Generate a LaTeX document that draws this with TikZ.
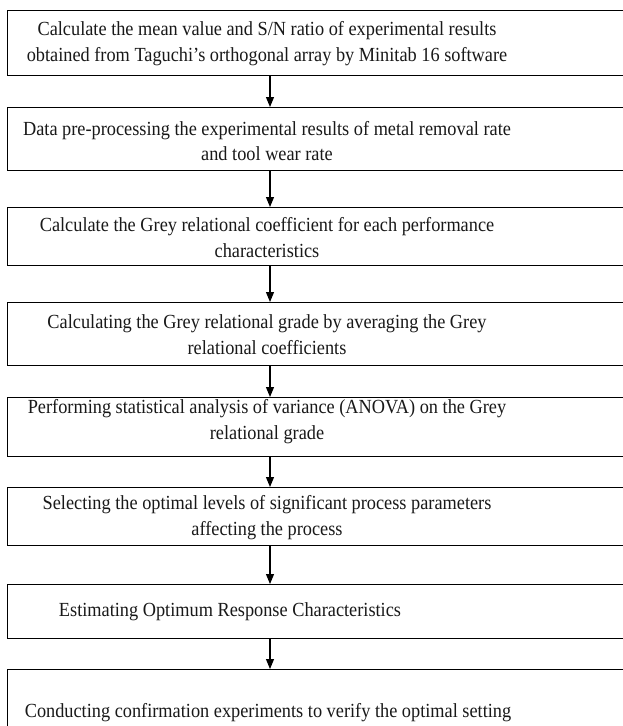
\documentclass[tikz,border=0pt]{standalone}
\usepackage{fontspec}
\setmainfont{Liberation Serif}
\newfontfamily\narrowserif[FakeStretch=0.915]{Liberation Serif}
\usetikzlibrary{arrows.meta}
\begin{document}
\begin{tikzpicture}[x=1pt,y=1pt,
  box/.style={draw=black, line width=1.1pt, fill=white, rectangle, minimum width=660pt, anchor=north west, inner sep=0pt},
  txt/.style={align=center, font=\narrowserif\fontsize{20}{25.5}\selectfont, inner sep=0pt, text=black!90},
  arr/.style={line width=1.1pt, -{Triangle[length=10pt,width=8pt]}}]
\useasboundingbox (0,0) rectangle (623,-726);
\fill[white] (0,0) rectangle (623,-726);
\clip (0,0) rectangle (623,-726);
\coordinate (ax) at (270,0);
\node[box, minimum height=65pt] (b1) at (7,-10) {};
\node[box, minimum height=63pt] (b2) at (7,-107) {};
\node[box, minimum height=58pt] (b3) at (7,-207) {};
\node[box, minimum height=63pt] (b4) at (7,-302) {};
\node[box, minimum height=59pt] (b5) at (7,-397) {};
\node[box, minimum height=58pt] (b6) at (7,-487) {};
\node[box, minimum height=54pt] (b7) at (7,-584) {};
\node[box, minimum height=66pt] (b8) at (7,-669) {};
\node[txt] (t1) at (267,-43.5) {Calculate the mean value and S/N ratio of experimental results\\obtained from Taguchi’s orthogonal array by Minitab 16 software};
\node[txt] (t2) at (267,-141) {Data pre-processing the experimental results of metal removal rate\\and tool wear rate};
\node[txt] (t3) at (267,-237.5) {Calculate the Grey relational coefficient for each performance\\characteristics};
\node[txt] (t4) at (267,-334.5) {Calculating the Grey relational grade by averaging the Grey\\relational coefficients};
\node[txt] (t5) at (267,-421.5) {Performing statistical analysis of variance (ANOVA) on the Grey\\relational grade};
\node[txt] (t6) at (267,-517.5) {Selecting the optimal levels of significant process parameters\\affecting the process};
\node[txt] (t7) at (230,-612) {Estimating Optimum Response Characteristics};
\node[txt] (t8) at (268,-713) {Conducting confirmation experiments to verify the optimal setting};
\foreach \a/\b in {b1/b2,b2/b3,b3/b4,b4/b5,b5/b6,b6/b7,b7/b8}
  \draw[arr] (ax |- \a.south) -- (ax |- \b.north);
\end{tikzpicture}
\end{document}
